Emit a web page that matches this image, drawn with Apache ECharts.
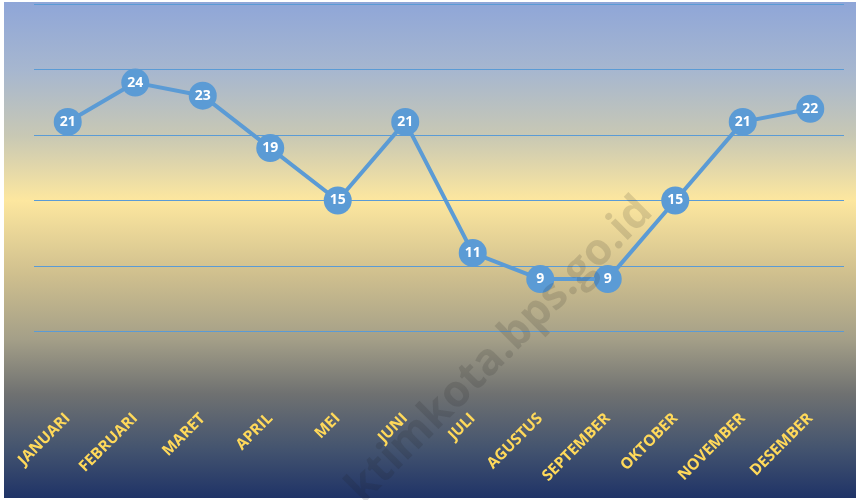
<!DOCTYPE html>
<html>
<head>
<meta charset="utf-8">
<script src="https://cdn.jsdelivr.net/npm/echarts@6/dist/echarts.min.js"></script>
<style>html,body{margin:0;padding:0;background:#fff}#c{width:859px;height:500px}</style>
</head>
<body>
<div id="c"></div>
<script>
var categories = ['JANUARI','FEBRUARI','MARET','APRIL','MEI','JUNI','JULI','AGUSTUS','SEPTEMBER','OKTOBER','NOVEMBER','DESEMBER'];
var values = [21, 24, 23, 19, 15, 21, 11, 9, 9, 15, 21, 22];
var yTicks = [0, 5, 10, 15, 20, 25, 30];

var chart = echarts.init(document.getElementById('c'), null, {renderer: 'canvas'});
var option = {
  animation: false,
  graphic: [
    {
      type: 'rect', z: -10, silent: true,
      shape: {x: 4, y: 2, width: 852, height: 496},
      style: {
        fill: new echarts.graphic.LinearGradient(0, 0, 0, 1, [
          {offset: 0, color: '#8fa6d8'},
          {offset: 0.14, color: '#a7b7cf'},
          {offset: 0.27, color: '#c8c8b4'},
          {offset: 0.40, color: '#fde79f'},
          {offset: 0.55, color: '#cfbf8e'},
          {offset: 0.68, color: '#a49f88'},
          {offset: 0.79, color: '#6f7171'},
          {offset: 0.90, color: '#44546f'},
          {offset: 1, color: '#1f3367'}
        ])
      }
    },
    {
      type: 'text', z: 5, silent: true,
      x: 500, y: 350, rotation: Math.PI / 4,
      style: {
        text: 'ktimkota.bps.go.id',
        font: 'bold 44px "Open Sans", sans-serif',
        fill: 'rgba(30,30,30,0.14)',
        align: 'center', verticalAlign: 'middle'
      }
    }
  ],
  grid: {left: 34, right: 15, top: 4, bottom: 103},
  xAxis: {
    type: 'category',
    data: categories,
    boundaryGap: true,
    axisLine: {show: false},
    axisTick: {show: false},
    axisLabel: {
      rotate: 45,
      margin: 19,
      color: '#ffd95a',
      fontWeight: 'bold',
      fontSize: 15.5,
      fontFamily: '"Open Sans", sans-serif',
      interval: 0
    }
  },
  yAxis: {
    type: 'value',
    min: yTicks[0],
    max: yTicks[yTicks.length - 1],
    interval: 5,
    axisLabel: {show: false},
    axisLine: {show: false},
    axisTick: {show: false},
    splitLine: {
      show: true,
      lineStyle: {color: ['rgba(0,0,0,0)', '#5b9bd5', '#5b9bd5', '#5b9bd5', '#5b9bd5', '#5b9bd5', '#5b9bd5'], width: 1}
    }
  },
  series: [{
    type: 'line',
    data: values,
    symbol: 'circle',
    symbolSize: 28,
    lineStyle: {color: '#5b9bd5', width: 4},
    itemStyle: {color: '#5b9bd5'},
    label: {
      show: true,
      position: 'inside',
      color: '#ffffff',
      fontWeight: 'bold',
      fontSize: 14,
      fontFamily: '"Open Sans", sans-serif'
    }
  }]
};
chart.setOption(option);
</script>
</body>
</html>
